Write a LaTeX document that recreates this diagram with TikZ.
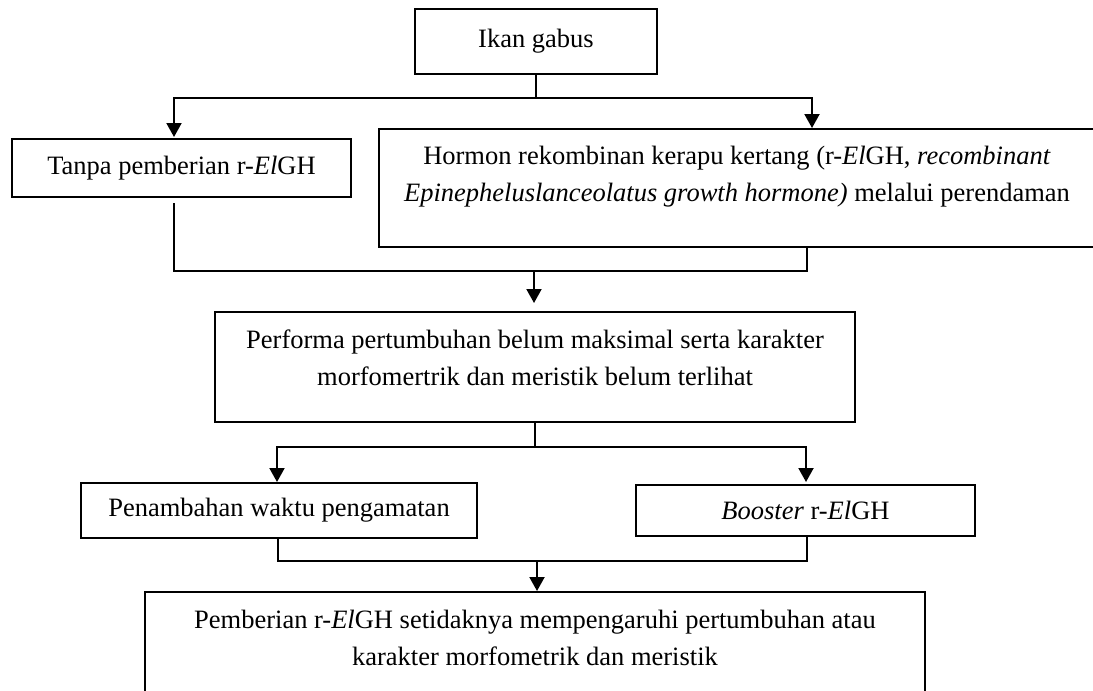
\documentclass[tikz,border=0pt]{standalone}
\usepackage{fontspec}
\setmainfont{Liberation Serif}
\usetikzlibrary{arrows.meta}
\begin{document}
\begin{tikzpicture}[x=1pt,y=-1pt,
  box/.style={draw, line width=2pt, rectangle, inner sep=0pt, font=\fontsize{26.5}{37}\selectfont},
  txt/.style={font=\fontsize{26.5}{37}\selectfont, align=center, inner sep=0pt},
  conn/.style={line width=2pt},
  arr/.style={line width=2pt, -{Triangle[width=15pt,length=14pt]}}]
\useasboundingbox (0,0) rectangle (1093,691);

% boxes
\node[box, minimum width=242pt, minimum height=65pt] (ikan) at (536,41.5) {Ikan gabus};
\node[box, minimum width=339pt, minimum height=58pt] (tanpa) at (181.5,168) {Tanpa pemberian r-\textit{El}GH};
\node[box, minimum width=717pt, minimum height=118pt] (hormon) at (737.5,188) {};
\node[txt] (hormontxt) at (737,177) {Hormon rekombinan kerapu kertang (r-\textit{El}GH, \textit{recombinant}\\\textit{Epinepheluslanceolatus growth hormone)} melalui perendaman};
\node[box, minimum width=640pt, minimum height=110pt] (perf) at (535,367) {};
\node[txt] (perftxt) at (535,358) {Performa pertumbuhan belum maksimal serta karakter\\morfomertrik dan meristik belum terlihat};
\node[box, minimum width=396pt, minimum height=55pt] (pen) at (279,510.5) {Penambahan waktu pengamatan};
\node[box, minimum width=339pt, minimum height=51pt] (boost) at (805.5,510.5) {\textit{Booster} r-\textit{El}GH};
\node[box, minimum width=780pt, minimum height=128pt] (res) at (535,656) {};
\node[txt] (restxt) at (535,638) {Pemberian r-\textit{El}GH setidaknya mempengaruhi pertumbuhan atau\\karakter morfometrik dan meristik};

% connectors
\coordinate (s1) at (536,98);
\draw[conn] (ikan.south) -- (s1);
\draw[arr, shorten >=1pt] (s1) -| ([xshift=-7.5pt]tanpa.north);
\draw[arr] (s1) -| ([xshift=74.5pt]hormon.north);

\coordinate (m1) at (534,271);
\draw[conn] ([xshift=-7.5pt,yshift=-5pt]tanpa.south) |- (m1);
\draw[conn] ([xshift=69.5pt]hormon.south) |- (m1);
\draw[arr, shorten >=8pt] (m1) -- (m1 |- perf.north);

\coordinate (s2) at (535,447);
\draw[conn] (perf.south) -- (s2);
\draw[arr] (s2) -| ([xshift=-2pt]pen.north);
\draw[arr, shorten >=2pt] (s2) -| ([xshift=0.5pt]boost.north);

\coordinate (m2) at (537,561);
\draw[conn] ([xshift=-1pt]pen.south) |- (m2);
\draw[conn] ([xshift=1.5pt]boost.south) |- (m2);
\draw[arr] (m2) -- (m2 |- res.north);
\end{tikzpicture}
\end{document}
